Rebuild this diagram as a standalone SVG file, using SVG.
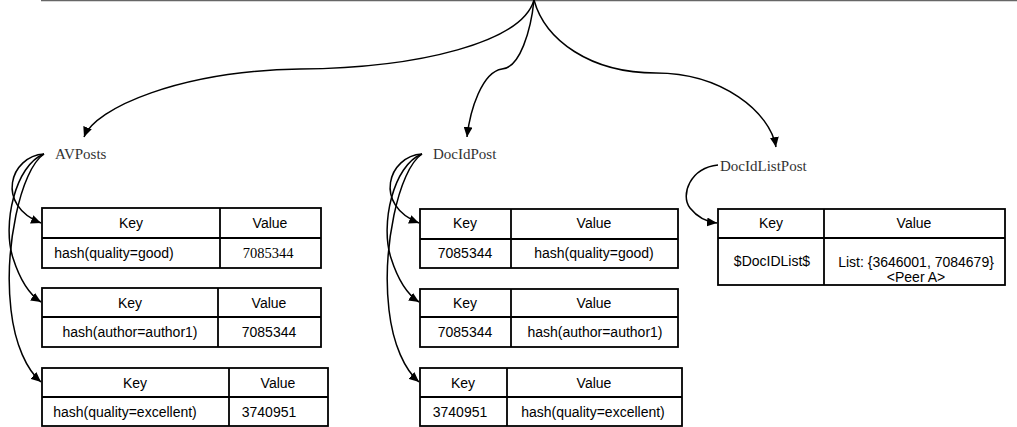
<svg xmlns="http://www.w3.org/2000/svg" width="1017" height="427" viewBox="0 0 1017 427">
  <style>
    .cell { fill: #fff; stroke: #000; stroke-width: 1.8; }
    .grid { stroke: #000; stroke-width: 1.8; fill: none; }
    .t { font-family: "Liberation Sans", Arial, sans-serif; font-size: 14px; fill: #000; text-anchor: middle; }
    .ts { font-family: "Liberation Serif", "Times New Roman", serif; font-size: 14.5px; fill: #000; text-anchor: middle; }
    .lbl { font-family: "Liberation Serif", "Times New Roman", serif; font-size: 15px; fill: #333; }
    .edge { fill: none; stroke: #000; stroke-width: 1.5; }
  </style>
  <defs>
    <marker id="arrow" markerUnits="userSpaceOnUse" markerWidth="11" markerHeight="9" refX="10" refY="4.5" orient="auto">
      <path d="M0,0 L10,4.5 L0,9 z" fill="#000"/>
    </marker>
  </defs>

  <!-- top rule -->
  <line x1="41" y1="0.5" x2="1017" y2="0.5" stroke="#666" stroke-width="1.5"/>

  <!-- connectors -->
  <g id="connectors">
    <!-- from root to the three post indexes -->
    <path class="edge" marker-end="url(#arrow)" d="M534,0 C522,42 420,68 300,69 C180,71 95,108 84,137"/>
    <path class="edge" marker-end="url(#arrow)" d="M534,0 C531,30 520,68 502,69 C482,72 470,110 467,137"/>
    <path class="edge" marker-end="url(#arrow)" d="M534,0 C545,40 590,73 656,73 C722,73 770,112 776,147"/>

    <!-- AVPosts entries -->
    <path class="edge" marker-end="url(#arrow)" d="M44,154 C10,156 -5,205 41,223"/>
    <path class="edge" marker-end="url(#arrow)" d="M44,154 C15,165 2,225 13,258 C20,280 30,295 41,302"/>
    <path class="edge" marker-end="url(#arrow)" d="M44,154 C20,170 4,250 11,310 C15,345 27,370 41,382"/>

    <!-- DocIdPost entries -->
    <path class="edge" marker-end="url(#arrow)" d="M422,154 C388,156 373,205 419,223"/>
    <path class="edge" marker-end="url(#arrow)" d="M422,154 C393,165 380,225 391,258 C398,280 408,295 419,302"/>
    <path class="edge" marker-end="url(#arrow)" d="M422,154 C398,170 382,250 389,310 C393,345 405,370 419,382"/>

    <!-- DocIdListPost entry -->
    <path class="edge" marker-end="url(#arrow)" d="M718,165 C690,168 680,195 690,208 C698,218 707,222 717,223"/>
  </g>

  <!-- index labels -->
  <g id="label-avposts"><text class="lbl" x="55" y="159">AVPosts</text></g>
  <g id="label-docidpost"><text class="lbl" x="433" y="159">DocIdPost</text></g>
  <g id="label-docidlistpost"><text class="lbl" x="720" y="171">DocIdListPost</text></g>

  <!-- AVPosts tables -->
  <g id="av-table-1">
    <rect class="cell" x="42" y="208" width="279" height="60"/>
    <path class="grid" d="M42,238 H321 M220,208 V268"/>
    <text class="t" x="131" y="228">Key</text>
    <text class="t" x="270" y="228">Value</text>
    <text class="t" x="114" y="258">hash(quality=good)</text>
    <text class="ts" x="268" y="258">7085344</text>
  </g>
  <g id="av-table-2">
    <rect class="cell" x="42" y="288" width="279" height="59"/>
    <path class="grid" d="M42,317 H321 M218,288 V347"/>
    <text class="t" x="130" y="308">Key</text>
    <text class="t" x="269" y="308">Value</text>
    <text class="t" x="130" y="337">hash(author=author1)</text>
    <text class="t" x="269" y="337">7085344</text>
  </g>
  <g id="av-table-3">
    <rect class="cell" x="42" y="368" width="286" height="58"/>
    <path class="grid" d="M42,397 H328 M229,368 V426"/>
    <text class="t" x="135" y="388">Key</text>
    <text class="t" x="278" y="388">Value</text>
    <text class="t" x="125" y="417">hash(quality=excellent)</text>
    <text class="t" x="269" y="417">3740951</text>
  </g>

  <!-- DocIdPost tables -->
  <g id="doc-table-1">
    <rect class="cell" x="420" y="209" width="258" height="59"/>
    <path class="grid" d="M420,239 H678 M511,209 V268"/>
    <text class="t" x="465" y="228">Key</text>
    <text class="t" x="594" y="228">Value</text>
    <text class="t" x="465" y="258">7085344</text>
    <text class="t" x="594" y="258">hash(quality=good)</text>
  </g>
  <g id="doc-table-2">
    <rect class="cell" x="420" y="289" width="258" height="58"/>
    <path class="grid" d="M420,317 H678 M511,289 V347"/>
    <text class="t" x="465" y="308">Key</text>
    <text class="t" x="594" y="308">Value</text>
    <text class="t" x="465" y="337">7085344</text>
    <text class="t" x="595" y="337">hash(author=author1)</text>
  </g>
  <g id="doc-table-3">
    <rect class="cell" x="420" y="368" width="262" height="58"/>
    <path class="grid" d="M420,397 H682 M507,368 V426"/>
    <text class="t" x="463" y="388">Key</text>
    <text class="t" x="594" y="388">Value</text>
    <text class="t" x="460" y="417">3740951</text>
    <text class="t" x="593" y="417">hash(quality=excellent)</text>
  </g>

  <!-- DocIdListPost table -->
  <g id="doclist-table">
    <rect class="cell" x="718" y="209" width="287" height="76"/>
    <path class="grid" d="M718,238 H1005 M824,209 V285"/>
    <text class="t" x="771" y="228">Key</text>
    <text class="t" x="914" y="228">Value</text>
    <text class="t" x="772" y="266">$DocIDList$</text>
    <text class="t" x="916" y="267">List: {3646001, 7084679}</text>
    <text class="t" x="916" y="282">&lt;Peer A&gt;</text>
  </g>
</svg>
